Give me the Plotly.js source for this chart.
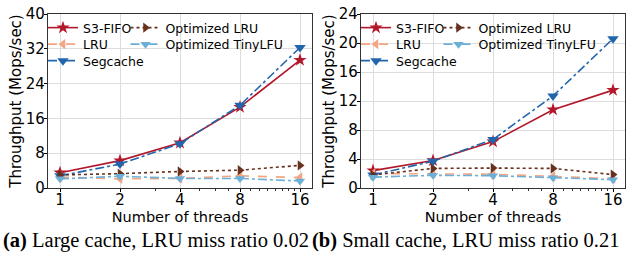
<!DOCTYPE html>
<html>
<head>
<meta charset="utf-8">
<script src="https://cdn.plot.ly/plotly-3.0.1.min.js"></script>
<style>html,body{margin:0;padding:0;background:#fff;}#chart{width:626px;height:262px;}</style>
</head>
<body>
<div id="chart"></div>
<script>
// ---- data ----
const threads = [1, 2, 4, 8, 16];
const seriesNames = ["S3-FIFO", "LRU", "Segcache", "Optimized LRU", "Optimized TinyLFU"];

// (a) Large cache, LRU miss ratio 0.02
const largeS3FIFO   = [3.5, 6.3, 10.4, 18.6, 29.4];
const largeLRU      = [2.5, 2.1, 2.2, 2.8, 2.4];
const largeSegcache = [2.8, 5.5, 10.2, 19.0, 32.3];
const largeOptLRU   = [3.0, 3.3, 3.8, 4.1, 5.2];
const largeOptTiny  = [2.1, 2.7, 2.2, 2.2, 1.6];

// (b) Small cache, LRU miss ratio 0.21
const smallS3FIFO   = [2.4, 3.8, 6.4, 10.8, 13.5];
const smallLRU      = [2.0, 2.0, 1.9, 1.6, 1.3];
const smallSegcache = [1.8, 3.7, 6.7, 12.7, 20.6];
const smallOptLRU   = [1.8, 2.7, 2.75, 2.7, 1.85];
const smallOptTiny  = [1.5, 1.75, 1.7, 1.4, 1.15];

const tickLabels = ["1", "2", "4", "8", "16"];
const yTicksLarge = [0, 8, 16, 24, 32, 40];
const yTicksSmall = [0, 4, 8, 12, 16, 20, 24];
const captionTags = ["(a)", "(b)"];
const captionTexts = [" Large cache, LRU miss ratio 0.02", " Small cache, LRU miss ratio 0.21"];

// ---- styles ----
const styles = [
  {color: "#b2182b", dash: "solid",   symbol: "star",           size: 10},
  {color: "#f4a582", dash: "dash",    symbol: "triangle-left",  size: 9},
  {color: "#2166ac", dash: "dashdot", symbol: "triangle-down",  size: 10},
  {color: "#67301f", dash: "dot",     symbol: "triangle-right", size: 9},
  {color: "#6baed6", dash: "dashdot", symbol: "triangle-down",  size: 9}
];
// legend slot per series: [column, row] (matplotlib ncol=2, column-major)
const slots = [[0, 0], [0, 1], [0, 2], [1, 0], [1, 1]];

const W = 626, H = 262;
const axLeft = [48, 361];           // px, left edge of each plot
const traces = [];
const layout = {
  width: W, height: H, margin: {l: 0, r: 0, t: 0, b: 0},
  paper_bgcolor: "#fff", plot_bgcolor: "#fff", showlegend: true
};

let legIdx = 1;
function addSet(set, xa, ya, p) {
  set.forEach((vals, i) => {
    const s = styles[i];
    const key = legIdx === 1 ? "legend" : "legend" + legIdx;
    traces.push({
      x: threads, y: vals, xaxis: xa, yaxis: ya, legend: key,
      name: seriesNames[i], type: "scatter", mode: "lines+markers",
      line: {color: s.color, dash: s.dash, width: 1.6},
      marker: {color: s.color, symbol: s.symbol, size: s.size, line: {width: 0}},
      cliponaxis: false
    });
    const [c, r] = slots[i];
    const textLeft = axLeft[p] + 35 + c * 82.5;
    const rowY = 28 + r * 16.5;
    layout[key] = {
      x: (textLeft - 40) / W, y: 1 - rowY / H, xanchor: "left", yanchor: "middle",
      xref: "paper", yref: "paper", orientation: "v",
      bgcolor: "rgba(0,0,0,0)", borderwidth: 0, itemwidth: 30,
      font: {family: "DejaVu Sans", size: 12.5, color: "#000"}
    };
    legIdx++;
  });
}
addSet([largeS3FIFO, largeLRU, largeSegcache, largeOptLRU, largeOptTiny], "x", "y", 0);
addSet([smallS3FIFO, smallLRU, smallSegcache, smallOptLRU, smallOptTiny], "x2", "y2", 1);

const xr = [Math.log10(1) - 0.2 * Math.log10(2), Math.log10(16) + 0.2 * Math.log10(2)];
const minorVals = [3, 5, 6, 7, 9, 10, 11, 12, 13, 14, 15];
const tickFont = {family: "DejaVu Sans", size: 15, color: "#000"};
const titleFont = {family: "DejaVu Sans", size: 14.5, color: "#000"};

function xAxis(domain, anchor) {
  return {
    type: "log", domain: domain, anchor: anchor, range: xr,
    tickmode: "array", tickvals: threads, ticktext: tickLabels,
    ticks: "outside", ticklen: 3, tickwidth: 1, tickcolor: "#000",
    ticklabelstandoff: -5,
    minor: {tickmode: "array", tickvals: minorVals, ticks: "outside", ticklen: 2, tickwidth: 0.8, tickcolor: "#000", showgrid: false},
    showgrid: true, gridcolor: "#dddddd", gridwidth: 1,
    showline: true, linecolor: "#333", linewidth: 1.2, mirror: true,
    zeroline: false, tickfont: tickFont,
    title: {text: "Number of threads", font: titleFont, standoff: 0}
  };
}
function yAxis(domain, anchor, range, ticks) {
  return {
    domain: domain, anchor: anchor, range: range,
    tickmode: "array", tickvals: ticks,
    ticks: "outside", ticklen: 3, tickwidth: 1, tickcolor: "#000",
    ticklabelstandoff: -4,
    showgrid: true, gridcolor: "#dddddd", gridwidth: 1,
    showline: true, linecolor: "#333", linewidth: 1.2, mirror: true,
    zeroline: false, tickfont: tickFont,
    title: {text: "Throughput (Mops/sec)", font: {family: "DejaVu Sans", size: 15, color: "#000"}, standoff: 0}
  };
}
const yDom = [74 / H, 248 / H];
layout.xaxis = xAxis([48 / W, 312 / W], "y");
layout.yaxis = yAxis(yDom, "x", [0, 40], yTicksLarge);
layout.xaxis2 = xAxis([361 / W, 625 / W], "y2");
layout.yaxis2 = yAxis(yDom, "x2", [0, 24], yTicksSmall);

const capX = [1, 310];
layout.annotations = captionTags.map((tag, i) => ({
  text: "<b>" + tag + "</b>" + captionTexts[i], x: capX[i] / W, y: 1 - 240 / H,
  xref: "paper", yref: "paper", xanchor: "left", yanchor: "middle", showarrow: false,
  font: {family: "Liberation Serif", size: 20.5, color: "#000"}
}));

Plotly.newPlot("chart", traces, layout, {staticPlot: true, displayModeBar: false});
</script>
</body>
</html>
